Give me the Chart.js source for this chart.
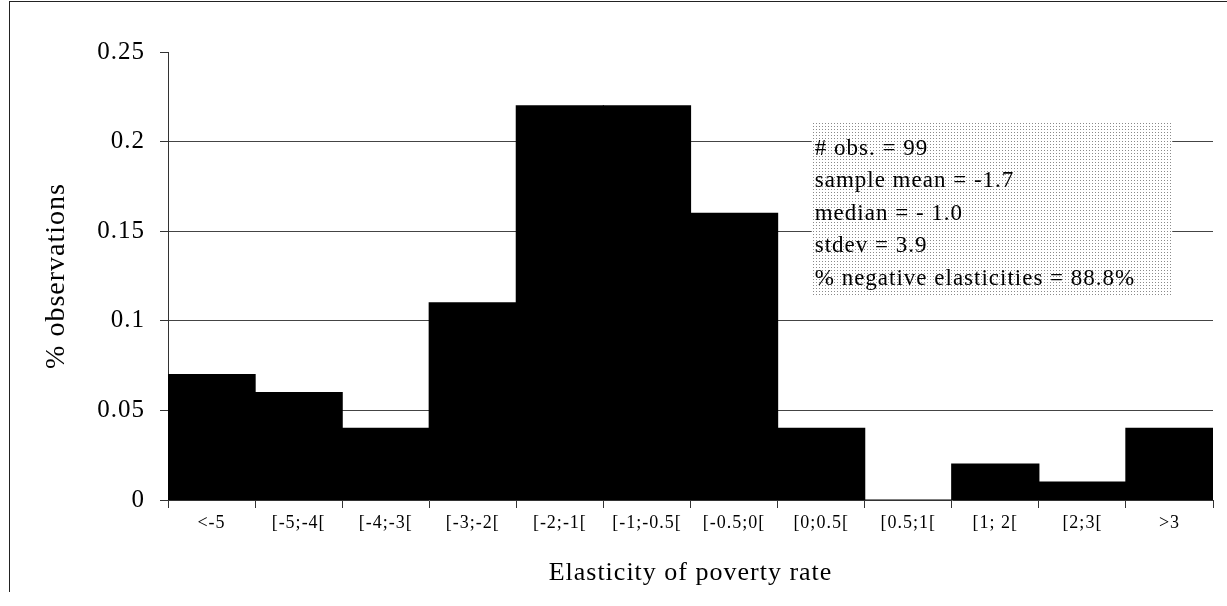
<!DOCTYPE html>
<html>
<head>
<meta charset="utf-8">
<script src="https://cdn.jsdelivr.net/npm/chart.js@4.4.1/dist/chart.umd.min.js"></script>
<style>
  html, body { margin: 0; padding: 0; background: #fff; }
  #wrap { position: relative; width: 1227px; height: 606px; }
  #frame { position: absolute; left: 9px; top: 1px; width: 1230px; height: 590px;
           border-left: 1px solid #222; border-top: 1px solid #222; pointer-events: none; }
</style>
</head>
<body>
<div id="wrap">
  <canvas id="histChart" width="1227" height="606"></canvas>
  <div id="frame"></div>
</div>
<script>
// 구간 라벨
const bins = ["<-5", "[-5;-4[", "[-4;-3[", "[-3;-2[", "[-2;-1[", "[-1;-0.5[",
              "[-0.5;0[", "[0;0.5[", "[0.5;1[", "[1; 2[", "[2;3[", ">3"];
// 관측 비율
const shares = [0.07, 0.06, 0.04, 0.11, 0.22, 0.22, 0.16, 0.04, 0.0, 0.02, 0.01, 0.04];
// y축 눈금
const yTicks = [0, 0.05, 0.1, 0.15, 0.2, 0.25];
// 통계 박스 문구
const statLines = ["# obs. = 99", "sample mean = -1.7", "median = - 1.0",
                   "stdev = 3.9", "% negative elasticities = 88.8%"];

const serif = "'Liberation Serif', 'DejaVu Serif', serif";

// 점무늬 배경 패턴
function dotPattern(ctx) {
  const p = document.createElement("canvas");
  p.width = 3; p.height = 3;
  const pc = p.getContext("2d");
  pc.fillStyle = "#ffffff";
  pc.fillRect(0, 0, 3, 3);
  pc.fillStyle = "#8a8a8a";
  pc.fillRect(0, 0, 1, 1);
  return ctx.createPattern(p, "repeat");
}

// 글자 간격 (원본 글꼴이 넓음)
const wideText = {
  id: "wideText",
  beforeLayout(chart) { chart.ctx.letterSpacing = "1px"; },
  beforeDraw(chart) { chart.ctx.letterSpacing = "1px"; }
};

// 통계 박스 플러그인
const statBox = {
  id: "statBox",
  afterDatasetsDraw(chart) {
    const { ctx, chartArea } = chart;
    const w = chartArea.right - chartArea.left;
    const h = chartArea.bottom - chartArea.top;
    const x = chartArea.left + w * 0.616;
    const y = chartArea.top + h * 0.158;
    const bw = w * 0.345;
    const bh = h * 0.388;
    ctx.save();
    ctx.fillStyle = dotPattern(ctx);
    ctx.fillRect(x, y, bw, bh);
    ctx.fillStyle = "#000";
    ctx.font = "23px " + serif;
    ctx.letterSpacing = "1px";
    ctx.textBaseline = "middle";
    statLines.forEach((t, i) => {
      ctx.fillText(t, x + 3, y + 26 + i * 32.5);
    });
    ctx.restore();
  }
};

const ctx = document.getElementById("histChart").getContext("2d");
const histChart = new Chart(ctx, {
  type: "bar",
  data: {
    labels: bins,
    datasets: [{
      data: shares,
      backgroundColor: "#000",
      borderWidth: 0,
      inflateAmount: 0.6,
      barPercentage: 1.0,
      categoryPercentage: 1.0
    }]
  },
  options: {
    responsive: false,
    animation: false,
    layout: { padding: { left: 0, right: 14, top: 52, bottom: 0 } },
    plugins: {
      legend: { display: false },
      tooltip: { enabled: false }
    },
    scales: {
      x: {
        afterFit: (s) => { s.height = 106; },
        border: { color: "#333", width: 1 },
        grid: { drawOnChartArea: false, drawTicks: true, tickLength: 8, color: "#333", offset: true },
        ticks: { color: "#000", font: { family: serif, size: 18 }, padding: 4, autoSkip: false, maxRotation: 0 },
        title: { display: true, text: "Elasticity of poverty rate", color: "#000",
                 font: { family: serif, size: 26 }, padding: { top: 0, bottom: 17 } }
      },
      y: {
        min: 0,
        max: 0.25,
        afterFit: (s) => { s.width = 168; },
        afterBuildTicks: (s) => { s.ticks = yTicks.map(v => ({ value: v })); },
        border: { color: "#333", width: 1 },
        grid: {
          color: (c) => (c.tick.value === 0 || c.tick.value === 0.25) ? "rgba(0,0,0,0)" : "#444",
          tickColor: "#333",
          tickLength: 8
        },
        ticks: { color: "#000", font: { family: serif, size: 25 }, padding: 15,
                 callback: (v) => String(v) },
        title: { display: true, text: "% observations", color: "#000",
                 font: { family: serif, size: 28 }, padding: { top: 40, bottom: 0 } }
      }
    }
  },
  plugins: [wideText, statBox]
});
</script>
</body>
</html>
